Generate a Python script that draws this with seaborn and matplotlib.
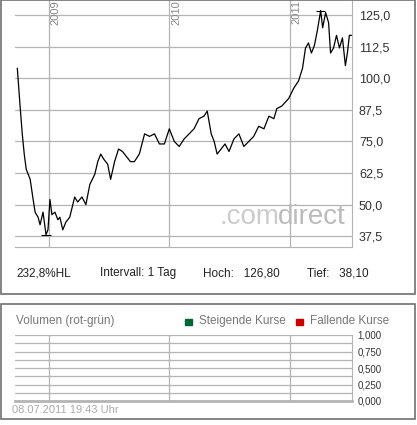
import pandas as pd
import numpy as np
import matplotlib
matplotlib.use('Agg')
import matplotlib.pyplot as plt
import matplotlib.dates as mdates
from matplotlib.patches import Rectangle
import seaborn as sns

###################### data #################################
dates = ['2008-09-27', '2008-10-06', '2008-10-12', '2008-10-18', '2008-10-24', '2008-11-05',
         '2008-11-14', '2008-11-20', '2008-11-29', '2008-12-05', '2008-12-14', '2008-12-23',
         '2008-12-29', '2009-01-04', '2009-01-10', '2009-01-19', '2009-01-28', '2009-02-03',
         '2009-02-12', '2009-02-21', '2009-03-05', '2009-03-20', '2009-03-29', '2009-04-11',
         '2009-04-23', '2009-05-05', '2009-05-20', '2009-05-29', '2009-06-07', '2009-06-16',
         '2009-06-28', '2009-07-07', '2009-07-19', '2009-07-31', '2009-08-12', '2009-08-24',
         '2009-09-05', '2009-09-17', '2009-10-02', '2009-10-18', '2009-11-02', '2009-11-17',
         '2009-12-02', '2009-12-17', '2010-01-01', '2010-01-16', '2010-01-31', '2010-02-15',
         '2010-03-02', '2010-03-17', '2010-04-01', '2010-04-16', '2010-04-26', '2010-05-08',
         '2010-05-17', '2010-05-26', '2010-06-07', '2010-06-19', '2010-07-01', '2010-07-16',
         '2010-07-31', '2010-08-15', '2010-08-30', '2010-09-14', '2010-09-29', '2010-10-15',
         '2010-10-30', '2010-11-14', '2010-11-23', '2010-12-08', '2010-12-29', '2011-01-13',
         '2011-01-28', '2011-02-09', '2011-02-18', '2011-02-27', '2011-03-08', '2011-03-17',
         '2011-03-26', '2011-04-05', '2011-04-11', '2011-04-20', '2011-04-29', '2011-05-05',
         '2011-05-14', '2011-05-23', '2011-06-01', '2011-06-10', '2011-06-19', '2011-06-25',
         '2011-07-01', '2011-07-08']
prices = [104, 88, 78, 70, 64, 60,
          52, 47, 45, 42, 47, 38.1,
          40, 52, 46, 47, 44, 45,
          40, 43, 45, 53, 51, 53,
          50, 58, 62, 67, 70, 68,
          66, 60, 67, 72, 71, 69,
          67, 67, 70, 78, 77, 78,
          74, 74, 80, 75, 73, 76,
          78, 80, 84, 85, 87, 78,
          75, 70, 72, 74, 71, 76,
          78, 73, 75, 77, 81, 80,
          85, 84, 88, 89, 92, 96,
          99, 104, 112, 114, 110, 113,
          119, 126.8, 120, 126, 122, 110,
          112, 117, 112, 116, 105, 110,
          117, 117]
price_ticks = [37.5, 50.0, 62.5, 75.0, 87.5, 100.0, 112.5, 125.0]
year_ticks = ['2009-01-01', '2010-01-01', '2011-01-01']
vol_ticks = [0.0, 0.25, 0.5, 0.75, 1.0]

df = pd.DataFrame({'Date': pd.to_datetime(dates), 'Kurs': prices})

def de(v, n):
    return f"{v:.{n}f}".replace('.', ',')

sns.set_style('white')
plt.rcParams['font.family'] = ['Liberation Sans', 'DejaVu Sans']
W, H = 417, 425
fig = plt.figure(figsize=(W / 100, H / 100), dpi=100)
grid = '#b4b4b4'

def frac(x0, y0, x1, y1):
    return [x0 / W, 1 - y1 / H, (x1 - x0) / W, (y1 - y0) / H]

# panel frames
for y0, y1 in [(0, 294), (304, 419)]:
    fig.patches.append(Rectangle((0.5 / W, 1 - y1 / H), 414.5 / W, (y1 - y0) / H,
                                 transform=fig.transFigure, fill=False, ec='#707070', lw=1.2))

xmin, xmax = pd.Timestamp('2008-09-20'), pd.Timestamp('2011-07-09')

############################ price chart ##############################
ax = fig.add_axes(frac(15, 0, 352, 247))
sns.lineplot(data=df, x='Date', y='Kurs', ax=ax, color='black', lw=0.9)
ax.set_xlim(xmin, xmax)
ax.set_ylim(33.2, 131)
ax.set_yticks(price_ticks)
ax.set_yticklabels([de(t, 1) for t in price_ticks])
ax.yaxis.tick_right()
ax.tick_params(axis='y', length=0, labelsize=9, colors='#333333', pad=5)
ax.set_xticks(pd.to_datetime(year_ticks))
ax.set_xticklabels([])
ax.tick_params(axis='x', length=0)
ax.grid(True, color=grid, lw=0.9)
ax.set_axisbelow(True)
for s in ['top', 'left']:
    ax.spines[s].set_visible(False)
for s in ['right', 'bottom']:
    ax.spines[s].set_color(grid)
ax.set_xlabel('')
ax.set_ylabel('')
for yt in year_ticks:
    ax.text(pd.Timestamp(yt) + pd.Timedelta(days=5), 131, yt[:4], rotation=90,
            va='top', ha='left', fontsize=8, color='#888888')
# high/low markers
imax, imin = df['Kurs'].idxmax(), df['Kurs'].idxmin()
for i in [imax, imin]:
    d = df['Date'][i]
    ax.hlines(df['Kurs'][i], d - pd.Timedelta(days=14), d + pd.Timedelta(days=14), color='black', lw=0.8)
ax.text(0.608, 0.12, '.com', transform=ax.transAxes, fontsize=20, color='#cccccc', ha='left', va='center')
ax.text(0.78, 0.12, 'direct', transform=ax.transAxes, fontsize=20, color='#bbbbbb', ha='left', va='center')

hi, lo = df['Kurs'].max(), df['Kurs'].min()
fig.text(16 / W, 1 - 273 / H, f"{de((hi / lo - 1) * 100, 1)}%HL", fontsize=8.5, va='center', color='#222222')
fig.text(100 / W, 1 - 273 / H, 'Intervall: 1 Tag', fontsize=8.5, va='center', color='#222222')
fig.text(203 / W, 1 - 273 / H, f"Hoch:   {de(hi, 2)}", fontsize=8.5, va='center', color='#222222')
fig.text(307 / W, 1 - 273 / H, f"Tief:   {de(lo, 2)}", fontsize=8.5, va='center', color='#222222')

############################ volume chart ##############################
av = fig.add_axes(frac(15, 335, 352, 401))
av.set_xlim(xmin, xmax)
av.set_ylim(0, 1)
av.set_yticks(np.arange(0, 1.001, 0.125), minor=True)
av.set_yticks(vol_ticks)
av.set_yticklabels([de(t, 3) for t in vol_ticks])
av.yaxis.tick_right()
av.tick_params(axis='y', which='both', length=0, labelsize=7, colors='#333333', pad=4)
av.set_xticks(pd.to_datetime(year_ticks))
av.set_xticklabels([])
av.tick_params(axis='x', length=0)
av.grid(True, which='both', axis='y', color=grid, lw=0.9)
av.grid(True, axis='x', color=grid, lw=0.9)
for s in ['top', 'left']:
    av.spines[s].set_visible(False)
av.spines['right'].set_color(grid)
av.spines['bottom'].set_color(grid)
av.spines['bottom'].set_linewidth(2)

fig.text(16 / W, 1 - 321 / H, 'Volumen (rot-grün)', fontsize=8.5, va='center', color='#777777')
fig.patches.append(Rectangle((185 / W, 1 - 325 / H), 7 / W, 6 / H, transform=fig.transFigure, color='#006633'))
fig.text(199 / W, 1 - 321 / H, 'Steigende Kurse', fontsize=8.5, va='center', color='#777777')
fig.patches.append(Rectangle((296 / W, 1 - 325 / H), 7 / W, 6 / H, transform=fig.transFigure, color='#cc0000'))
fig.text(310 / W, 1 - 321 / H, 'Fallende Kurse', fontsize=8.5, va='center', color='#777777')
fig.text(12 / W, 1 - 410 / H, '08.07.2011 19:43 Uhr', fontsize=8, va='center', color='#aaaaaa')

fig.savefig('out.png', dpi=100)
plt.close(fig)
print('done')
